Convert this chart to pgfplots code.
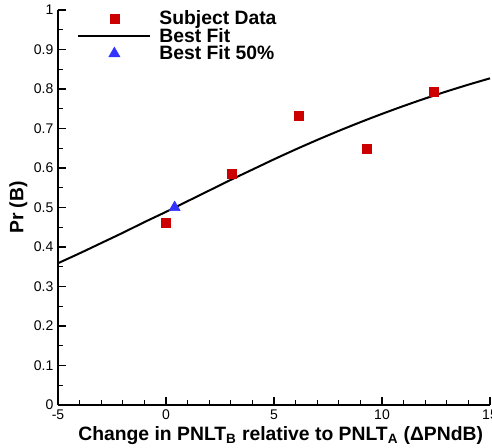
\documentclass[border=0pt]{standalone}
\usepackage{fontspec}
\setmainfont{Liberation Sans}
\usepackage{pgfplots}
\usetikzlibrary{calc}
\pgfplotsset{compat=1.18}
\begin{document}
\begin{tikzpicture}
\begin{axis}[
  name=ax,
  scale only axis,
  width=324pt, height=296.25pt,
  xmin=-5, xmax=15, ymin=0, ymax=1,
  axis x line*=bottom, axis y line*=left,
  axis line style={line width=1.5pt},
  xtick={-5,0,5,10,15},
  minor x tick num=4,
  ytick={0,0.1,...,1.0},
  yticklabels={0,0.1,0.2,0.3,0.4,0.5,0.6,0.7,0.8,0.9,1},
  minor y tick num=1,
  tick align=inside,
  major tick length=6pt, minor tick length=3.5pt,
  every tick/.style={black, line width=1.2pt},
  minor tick style={line width=0.9pt},
  /pgf/number format/assume math mode=true,
  tick label style={font=\fontsize{10.5}{12}\selectfont},
  xlabel={\textbf{Change in PNLT\textsubscript{B} relative to PNLT\textsubscript{A} (ΔPNdB)}},
  ylabel={\textbf{Pr (B)}},
  label style={font=\fontsize{14.5}{16}\selectfont},
  xlabel style={yshift=1.5pt, xshift=5pt},
  ylabel style={yshift=-2pt},
  clip=false,
  legend style={draw=none, fill=none, at={(axis description cs:0.035,1.012)}, anchor=north west,
    font=\fontsize{14.5}{14.5}\selectfont\bfseries, row sep=-3pt, column sep=4pt},
  legend cell align=left,
  legend image code/.code={\draw[mark repeat=2,mark phase=2,#1] plot coordinates {(0pt,0pt) (27pt,0pt) (54pt,0pt)};},
]
\addplot[only marks, mark=square*, mark size=3.4pt, color={rgb,255:red,204;green,0;blue,0}]
  coordinates {(0,0.461) (3.06,0.585) (6.16,0.732) (9.3,0.648) (12.4,0.792)};
\addlegendentry{Subject Data}
\addplot[black, line width=1.5pt, smooth, no marks]
  coordinates {(-5,0.359) (-4,0.384) (-3,0.410) (-2,0.436) (-1,0.463) (0,0.489) (1,0.516) (2,0.543) (3,0.570) (4,0.596) (5,0.622) (6,0.647) (7,0.671) (8,0.694) (9,0.716) (10,0.737) (11,0.757) (12,0.776) (13,0.794) (14,0.811) (15,0.827)};
\addlegendentry{Best Fit}
\addplot[only marks, mark=triangle*, mark size=4.8pt, color={rgb,255:red,51;green,51;blue,255}]
  coordinates {(0.4,0.5)};
\addlegendentry{Best Fit 50\%}
\end{axis}
\pgfresetboundingbox
\path ($(ax.south west)+(-43.5pt,-31.5pt)$) rectangle ($(ax.north east)+(1.5pt,7.5pt)$);
\end{tikzpicture}
\end{document}
